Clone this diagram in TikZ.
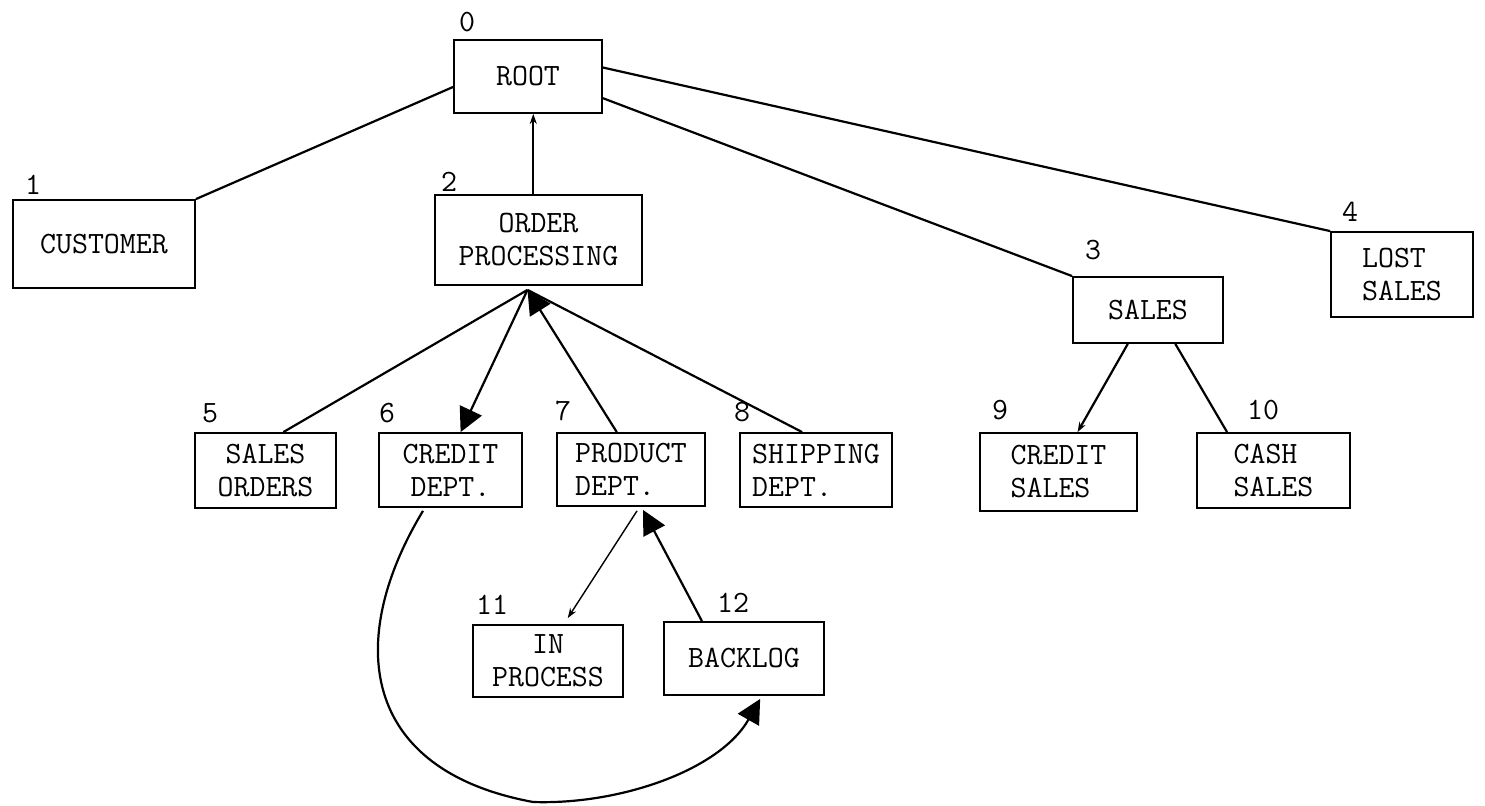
\documentclass[tikz,border=0pt]{standalone}
\usetikzlibrary{arrows.meta,calc}
\begin{document}
\begin{tikzpicture}[x=0.5pt,y=-0.5pt,
  txt/.style={font=\ttfamily\fontsize{15.5}{16.5}\selectfont},
  box/.style={txt,draw,line width=0.9pt,inner sep=0pt,align=center},
  lbox/.style={box,align=left},
  num/.style={txt,inner sep=0pt},
  link/.style={line width=1.1pt},
  thin/.style={line width=0.7pt},
  bigarrow/.style={-{Triangle[length=12pt,width=12pt]}},
  smallarrow/.style={-{Stealth[length=5pt,width=3.5pt]}}]
\useasboundingbox (0,0) rectangle (1485,806);

% boxes
\node[box,minimum width=74pt,minimum height=36.5pt] (root) at (528,76.5) {ROOT};
\node[box,minimum width=91pt,minimum height=44pt] (cust) at (104,244) {CUSTOMER};
\node[box,minimum width=103.5pt,minimum height=45pt] (op) at (538.5,240) {ORDER\\PROCESSING};
\node[box,minimum width=70.5pt,minimum height=37.5pt] (so) at (265.5,470.5) {SALES\\ORDERS};
\node[box,minimum width=71.5pt,minimum height=37pt] (cd) at (450.5,470) {CREDIT\\DEPT.};
\node[lbox,minimum width=74pt,minimum height=36.5pt] (pd) at (631,469.5) {PRODUCT\\DEPT.};
\node[lbox,minimum width=76pt,minimum height=37pt] (sd) at (816,470) {SHIPPING\\DEPT.};
\node[box,minimum width=75pt,minimum height=36pt] (ip) at (548,661) {IN\\PROCESS};
\node[box,minimum width=80pt,minimum height=36.5pt] (bk) at (744,658.5) {BACKLOG};
\node[box,minimum width=75pt,minimum height=33pt] (sales) at (1148,310) {SALES};
\node[lbox,minimum width=71pt,minimum height=42.5pt] (lost) at (1402,274.5) {LOST\\SALES};
\node[lbox,minimum width=78.5pt,minimum height=39pt] (cs) at (1058.5,472) {CREDIT\\SALES};
\node[lbox,minimum width=76.5pt,minimum height=37.5pt] (cash) at (1273.5,470.5) {CASH\\SALES};

% numbers
\node[num] (n0) at (467,22) {0};
\node[num] (n1) at (33,185) {1};
\node[num] (n2) at (449,182) {2};
\node[num] (n3) at (1093,250) {3};
\node[num] (n4) at (1350,212) {4};
\node[num] (n5) at (210,413) {5};
\node[num] (n6) at (387,413) {6};
\node[num] (n7) at (563,411) {7};
\node[num] (n8) at (742,412) {8};
\node[num] (n9) at (1000,410) {9};
\node[num] (n10) at (1263,410) {10};
\node[num] (n11) at (492,605) {11};
\node[num] (n12) at (733,603) {12};

% anchor points
\coordinate (opb) at ($(op.south)+(-11,4)$);
\coordinate (optop) at ($(op.north west)!0.475!(op.north east)$);

% root connectors
\draw[link] ($(root.north west)!0.64!(root.south west)$) -- (cust.north east);
\draw[link,smallarrow] (optop) -- (optop |- root.south);
\draw[link] ($(root.north east)!0.38!(root.south east)$) -- (lost.north west);
\draw[link] ($(root.north east)!0.79!(root.south east)$) -- (sales.north west);

% order processing connectors
\draw[link] (opb) -- ($(so.north west)!0.625!(so.north east)$);
\draw[link,bigarrow] (opb) -- ($(cd.north west)!0.57!(cd.north east)$);
\draw[link,bigarrow] ($(pd.north west)!0.405!(pd.north east)$) -- (opb);
\draw[link] (opb) -- ($(sd.north west)!0.41!(sd.north east)$);

% sales connectors
\draw[link,smallarrow] ($(sales.south west)!0.367!(sales.south east)$) -- ($(cs.north west)!0.62!(cs.north east)$);
\draw[link] ($(sales.south west)!0.68!(sales.south east)$) -- ($(cash.north west)!0.2!(cash.north east)$);

% product dept connectors
\draw[thin,smallarrow] ($(pd.south west)!0.54!(pd.south east)+(0,4)$) -- ($(ip.north west)!0.63!(ip.north east)+(0,-6)$);
\draw[link,bigarrow] ($(bk.north west)!0.24!(bk.north east)$) -- ($(pd.south west)!0.58!(pd.south east)+(0,3)$);

% credit dept to backlog curve
\draw[link,bigarrow] ($(cd.south west)!0.31!(cd.south east)+(0,3)$)
  .. controls (345,640) and (360,770) .. (533,802)
  .. controls (620,805) and (720,770) .. ($(bk.south west)!0.6!(bk.south east)+(0,3)$);
\end{tikzpicture}
\end{document}
